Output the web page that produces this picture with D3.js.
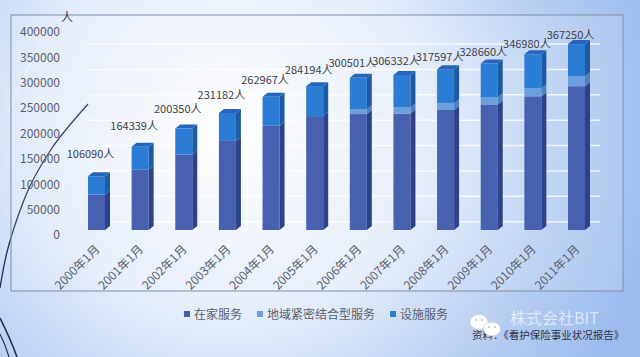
<!DOCTYPE html>
<html>
<head>
<meta charset="utf-8">
<script src="https://cdn.jsdelivr.net/npm/d3@7/dist/d3.min.js"></script>
<style>
  html, body { margin: 0; padding: 0; overflow: hidden; }
  svg { display: block; }
  text { font-family: "Noto Sans CJK SC", "Noto Sans", sans-serif; }
</style>
</head>
<body>
<svg id="chart" width="640" height="357"></svg>
<script>
// ---- data ----
const categories = ["2000年1月", "2001年1月", "2002年1月", "2003年1月", "2004年1月", "2005年1月",
                    "2006年1月", "2007年1月", "2008年1月", "2009年1月", "2010年1月", "2011年1月"];
const seriesNames = ["在家服务", "地域紧密结合型服务", "设施服务"];
const homeService = [70000, 119000, 149000, 176000, 206000, 225000, 229000, 230000, 237000, 248000, 264000, 284000];
const communityService = [0, 0, 0, 0, 0, 0, 10000, 12000, 14000, 14000, 16000, 20000];
const facilityService = [36090, 45339, 51350, 55182, 56967, 59194, 61501, 64332, 66597, 66660, 66980, 63250];
const totals = [106090, 164339, 200350, 231182, 262967, 284194, 300501, 306332, 317597, 328660, 346980, 367250];
const yTicks = [0, 50000, 100000, 150000, 200000, 250000, 300000, 350000, 400000];
const unitLabel = "人";
const sourceText = "资料：《看护保险事业状况报告》";
const watermark = "株式会社BIT";

// ---- styles ----
const colors = {
  front: ["#4760b0", "#6c9fdb", "#2a7cd4"],
  side:  ["#2e4289", "#4e7fbe", "#1c5aa4"],
  cap:   "#2566bc"
};
const svg = d3.select("#chart");
const W = 640, H = 357;

// background gradient
const defs = svg.append("defs");
const bg = defs.append("radialGradient").attr("id", "bg")
  .attr("gradientUnits", "userSpaceOnUse")
  .attr("cx", 230).attr("cy", 130).attr("r", 430);
bg.append("stop").attr("offset", "0").attr("stop-color", "#ffffff");
bg.append("stop").attr("offset", "0.45").attr("stop-color", "#e3ecfa");
bg.append("stop").attr("offset", "0.78").attr("stop-color", "#b6cdf2");
bg.append("stop").attr("offset", "1").attr("stop-color", "#9dbcee");
svg.append("rect").attr("width", W).attr("height", H).attr("fill", "url(#bg)");

// decorative slide curves (left)
const deco = svg.append("g").attr("fill", "none").attr("stroke", "#1f2d5c");
deco.append("path").attr("d", "M88,104 C72,122 60,136 52,148 C40,166 30,184 24,200 C17,218 11,236 7,252 C4,264 2,276 0,288").attr("stroke-width", 1.3);
deco.append("path").attr("d", "M0,318 C6,330 12,343 17,357").attr("stroke-width", 1.6);
deco.append("path").attr("d", "M0,334 C4,342 7,350 9,357").attr("stroke-width", 1.2);
svg.append("path").attr("d", "M8,112 C18,88 30,62 42,40").attr("fill", "none")
  .attr("stroke", "#ffffff").attr("stroke-opacity", 0.6).attr("stroke-width", 1);

// plot frame
const frame = {x0: 11, y0: 15, x1: 623, y1: 291};
svg.append("rect").attr("x", frame.x0).attr("y", frame.y0)
  .attr("width", frame.x1 - frame.x0).attr("height", frame.y1 - frame.y0)
  .attr("fill", "#ffffff").attr("fill-opacity", 0.12)
  .attr("stroke", "#7d8cab").attr("stroke-width", 1);

// scales
const x = d3.scalePoint().domain(categories).range([96.5, 576.5]);
const y = d3.scaleLinear().domain([0, 400000]).range([230, 27.5]);      // bar front faces
const yAxis = d3.scaleLinear().domain([0, 400000]).range([235, 32]);    // wall labels
const barW = 17, dx = 5, dy = -4;

// gridlines (back wall)
svg.append("g").selectAll("line").data(yTicks.filter(t => t > 0)).join("line")
  .attr("x1", 88).attr("x2", 600)
  .attr("y1", d => yAxis(d) + 12).attr("y2", d => yAxis(d) + 12)
  .attr("stroke", "#ffffff").attr("stroke-opacity", 0.75).attr("stroke-width", 1.5);

// y axis labels
const ya = d3.axisLeft(yAxis).tickValues(yTicks).tickSize(0).tickPadding(0).tickFormat(d3.format("d"));
const yg = svg.append("g").attr("transform", "translate(60,0)").call(ya);
yg.select(".domain").remove();
yg.selectAll("text").attr("font-size", 12).attr("fill", "#5a5f6e");

svg.append("text").attr("x", 67).attr("y", 22).attr("text-anchor", "middle")
  .attr("font-size", 12).attr("fill", "#404452").text(unitLabel);

// stacked data
const rows = categories.map((c, i) => ({cat: c, home: homeService[i], comm: communityService[i], fac: facilityService[i]}));
const keys = ["home", "comm", "fac"];
const stacked = d3.stack().keys(keys)(rows);

const bars = svg.append("g");
stacked.forEach((layer, li) => {
  layer.forEach(seg => {
    const cat = seg.data.cat;
    if (seg[1] - seg[0] <= 0) return;
    const xl = x(cat) - barW / 2, xr = xl + barW;
    const yt = y(seg[1]), yb = y(seg[0]);
    bars.append("rect").attr("x", xl).attr("y", yt).attr("width", barW).attr("height", yb - yt)
      .attr("fill", colors.front[li]);
    bars.append("path")
      .attr("d", `M${xr},${yb} L${xr + dx},${yb + dy} L${xr + dx},${yt + dy} L${xr},${yt} Z`)
      .attr("fill", colors.side[li]);
  });
});
// top caps
rows.forEach((r, i) => {
  const xl = x(r.cat) - barW / 2, xr = xl + barW;
  const yt = y(totals[i]);
  bars.append("path")
    .attr("d", `M${xl},${yt} L${xl + dx},${yt + dy} L${xr + dx},${yt + dy} L${xr},${yt} Z`)
    .attr("fill", colors.cap);
});

// total labels
svg.append("g").selectAll("text").data(totals).join("text")
  .attr("x", (d, i) => x(categories[i]) - 6)
  .attr("y", (d, i) => y(d) - 22 + i * 1.2 + 4)
  .attr("text-anchor", "middle").attr("font-size", 11).attr("fill", "#3c3f48")
  .text(d => d + "人");

// x labels
svg.append("g").selectAll("text").data(categories).join("text")
  .attr("transform", d => `translate(${x(d) + 1},${247}) rotate(-45)`)
  .attr("text-anchor", "end").attr("dy", "0.35em")
  .attr("font-size", 12).attr("fill", "#5a5f6e")
  .text(d => d);

// legend
const lg = svg.append("g");
let lx = 184;
seriesNames.forEach((name, i) => {
  lg.append("rect").attr("x", lx).attr("y", 311).attr("width", 6).attr("height", 6).attr("fill", colors.front[i]);
  const t = lg.append("text").attr("x", lx + 10).attr("y", 318.5).attr("font-size", 12)
    .attr("fill", "#5a5f6e").text(name);
  lx += 10 + t.node().getComputedTextLength() + 15;
});

// source and watermark
svg.append("text").attr("x", 472).attr("y", 339).attr("font-size", 10.5).attr("fill", "#2e3140").text(sourceText);
const icon = svg.append("g");
icon.append("ellipse").attr("cx", 479).attr("cy", 322).attr("rx", 9).attr("ry", 7.5)
  .attr("fill", "#ffffff").attr("stroke", "#c8cfd8").attr("stroke-width", 0.8);
icon.append("ellipse").attr("cx", 492).attr("cy", 329).attr("rx", 8.5).attr("ry", 7)
  .attr("fill", "#ffffff").attr("stroke", "#c8cfd8").attr("stroke-width", 0.8);
[[476,320],[482,320],[489,327],[495,327]].forEach(p =>
  icon.append("circle").attr("cx", p[0]).attr("cy", p[1]).attr("r", 1).attr("fill", "#b8bec8"));
svg.append("text").attr("x", 510).attr("y", 324).attr("font-size", 16)
  .attr("fill", "#ffffff").attr("fill-opacity", 0.6).text(watermark);
</script>
</body>
</html>
